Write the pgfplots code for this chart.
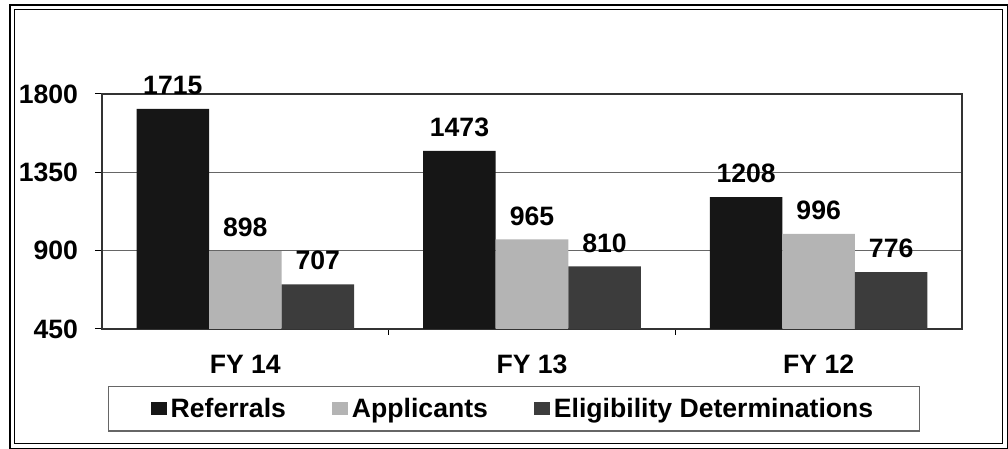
\documentclass[border=0pt]{standalone}
\usepackage{fontspec}
\setmainfont{Liberation Sans}
\usepackage{pgfplots}
\pgfplotsset{compat=1.18}
\definecolor{refc}{HTML}{161616}
\definecolor{appc}{HTML}{B4B4B4}
\definecolor{elic}{HTML}{3C3C3C}
\begin{document}
\begin{tikzpicture}
\path[use as bounding box] (-51pt,-60pt) rectangle (453pt,164.5pt);
\begin{axis}[
  at={(0pt,0pt)}, anchor=south west,
  scale only axis, width=430pt, height=117.5pt,
  xmin=-0.5, xmax=2.5, ymin=450, ymax=1800,
  clip=false,
  ybar=0pt, bar width=0.253,
  xtick={0,1,2}, xticklabels={FY 14,FY 13,FY 12},
  minor xtick={0.5,1.5},
  every major x tick/.style={draw=none},
  every minor x tick/.style={black, line width=0.5pt},
  minor tick length=3pt,
  ytick={450,900,1350,1800},
  major tick length=3.5pt,
  tick align=outside, tick pos=left,
  tick style={black, line width=0.5pt},
  ymajorgrids, grid style={black!60, line width=0.5pt},
  axis line style={black!80, line width=0.6pt},
  /pgf/number format/assume math mode=true,
  /pgf/number format/1000 sep={},
  tick label style={font=\fontsize{13.3}{15}\selectfont\bfseries},
  yticklabel style={xshift=-5pt},
  xticklabel style={yshift=-6pt},
  nodes near coords,
  every node near coord/.append style={font=\fontsize{13.3}{15}\selectfont\bfseries, black, yshift=3.5pt},
  legend columns=3,
  legend image code/.code={\fill[#1,draw=none] (0pt,-3.3pt) rectangle (8pt,3.3pt);},
  legend style={at={(0.479,-0.34)}, anchor=center, draw=black!60, line width=0.6pt,
    font=\fontsize{13.3}{15}\selectfont\bfseries, inner xsep=21pt, inner ysep=3.5pt,
    /tikz/every even column/.append style={column sep=21pt}},
]
\addplot[fill=refc, draw=none] coordinates {(0,1715) (1,1473) (2,1208)};
\addplot[fill=appc, draw=none] coordinates {(0,898) (1,965) (2,996)};
\addplot[fill=elic, draw=none] coordinates {(0,707) (1,810) (2,776)};
\legend{Referrals,Applicants,Eligibility Determinations}
\end{axis}
\draw[black, line width=0.7pt, double=white, double distance=1.6pt] (-44.75pt,-58.5pt) rectangle (451.5pt,160.75pt);
\end{tikzpicture}
\end{document}
